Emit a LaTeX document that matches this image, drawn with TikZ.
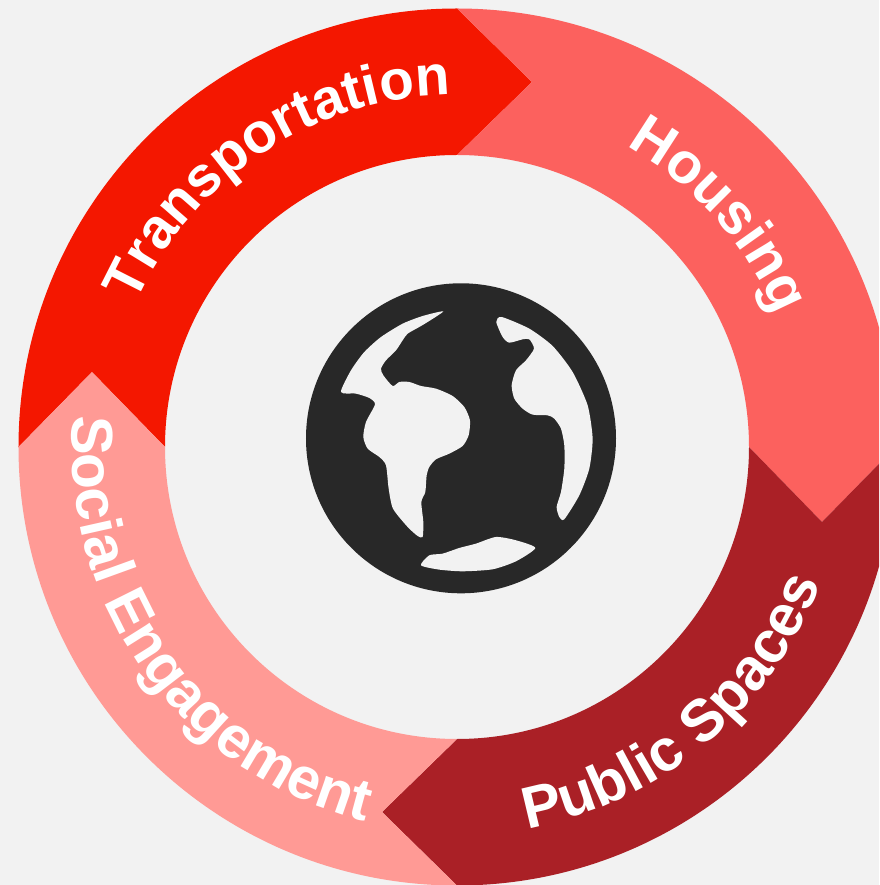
\documentclass[tikz,border=0pt]{standalone}
\usepackage{fontspec}
\setmainfont{Liberation Sans}
\usetikzlibrary{decorations.text}

\definecolor{pagebg}{HTML}{F2F2F2}
\definecolor{transportred}{HTML}{F41700}
\definecolor{housingred}{HTML}{FC615E}
\definecolor{publicred}{HTML}{AA2026}
\definecolor{socialred}{HTML}{FF9A95}
\definecolor{globedark}{HTML}{282828}

\newcommand{\ringfont}[1]{\bfseries\fontsize{#1}{66}\selectfont\color{white}}

\tikzset{
  ringtext/.style 2 args={decorate, decoration={text along path, text align=center, text={|\ringfont{#1}|#2}}},
  land/.style={fill=pagebg}
}

\begin{document}
\begin{tikzpicture}[x=1pt, y=1pt]
% the page, the ring runs over its right edge
\useasboundingbox (-457,-438) rectangle (422,447);
\clip (-457,-438) rectangle (422,447);
\fill[pagebg] (-457,-438) rectangle (422,447);

% draw the four arrow segments
\foreach \col/\ang in {transportred/0, housingred/-90, publicred/-180, socialred/-270} {
\fill[\col, rotate=\ang] (180:438.5) arc[start angle=180, end angle=90, radius=438.5]
  -- (75,365) -- (90:292) arc[start angle=90, end angle=180, radius=292]
  -- (-365,75) -- cycle;
}

% draw the labels along the ring
\path[ringtext={56.5}{Transportation}] (177.5:352) arc[start angle=177.5, end angle=69.5, radius=352];
\path[ringtext={57.5}{Housing}] (90:345) arc[start angle=90, end angle=-7, radius=345];
\path[ringtext={59}{Public Spaces}] (-120:388) arc[start angle=-120, end angle=20, radius=388];
\path[ringtext={59}{Social Engagement}] (145.8:385) arc[start angle=145.8, end angle=285.8, radius=385];

% draw the globe
\fill[globedark] (4,8.7) circle(155);
\begin{scope}[shift={(-161,175)}, x=0.3333pt, y=-0.3333pt]
% the land on the left
\fill[land] plot[smooth cycle, tension=0.4] coordinates {
(135,360) (165,295) (205,240) (255,195) (320,155) (380,132) (442,118)
(395,150) (370,165) (335,185) (320,205) (300,235) (270,265) (255,290)
(262,310) (290,342) (310,330) (340,330) (375,342) (420,350) (470,372)
(505,405) (522,445) (518,490) (500,522) (460,545) (420,562) (400,585)
(392,610) (388,660) (376,690) (382,750) (380,795) (365,792) (335,765)
(291,710) (278,650) (270,580) (250,555) (215,530) (202,495) (210,450)
(237,397) (220,378) (180,365)};
% the land on the right
\fill[land] plot[smooth cycle, tension=0.4] coordinates {
(617,135) (700,170) (770,222) (830,300) (875,400) (890,500) (880,590)
(850,670) (805,742) (790,735) (782,705) (795,660) (805,590) (805,520)
(795,470) (775,440) (755,430) (710,428) (680,410) (655,380) (647,340)
(660,295) (690,265) (714,230) (700,202) (680,202) (640,212) (620,195)
(601,150)};
% the land at the bottom
\fill[land] plot[smooth cycle, tension=0.4] coordinates {
(375,880) (400,850) (440,845) (490,828) (540,815) (600,795) (660,805)
(718,828) (660,868) (590,892) (500,898) (430,893)};
\end{scope}
\end{tikzpicture}
\end{document}
